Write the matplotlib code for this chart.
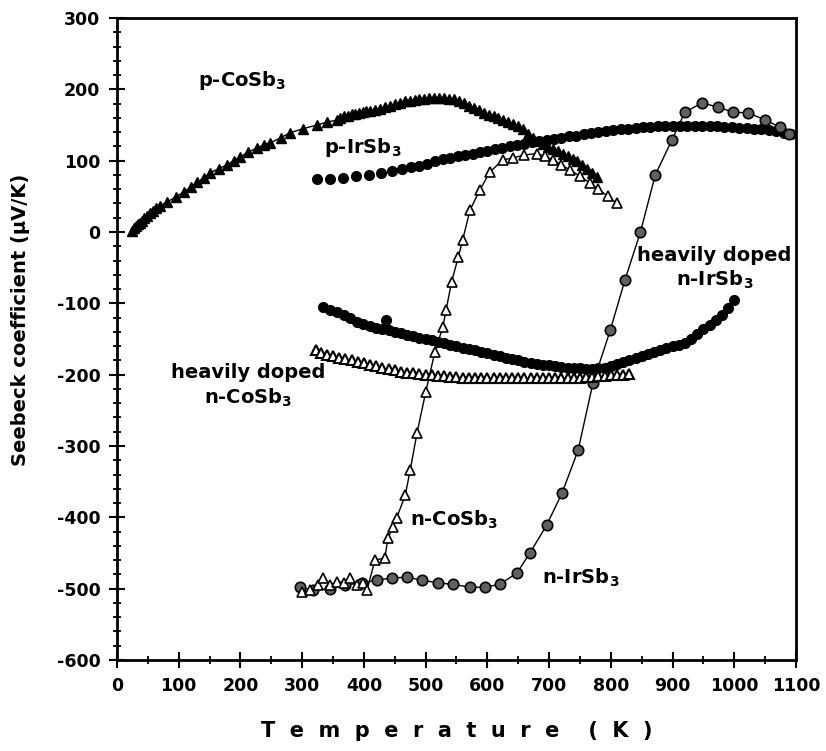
import matplotlib
matplotlib.use("Agg")
import matplotlib.pyplot as plt
from matplotlib.ticker import MultipleLocator

plt.rcParams['font.family'] = ['DejaVu Sans']
plt.rcParams['font.weight'] = 'bold'
plt.rcParams['mathtext.fontset'] = 'dejavusans'
plt.rcParams['axes.unicode_minus'] = False

# p-CoSb3 (filled triangles, line)
p_co_T = [25, 28, 31, 34, 37, 40, 44, 48, 53, 58, 64, 70,
          81, 95, 108, 120, 130, 141, 151, 165, 178, 189, 199, 213, 227, 238, 248, 265, 280, 302, 324, 340, 356,
          362, 368, 374, 380, 386, 392, 398, 404, 410, 418, 426, 434, 442, 450, 458, 466, 474, 482, 490, 498,
          506, 514, 522, 530, 538, 546, 554, 562, 570, 578, 586, 594, 602, 610, 618, 626, 634, 642, 650, 658,
          666, 674, 682, 690, 698, 706, 714, 722, 730, 738, 746, 754, 762, 770, 778]
p_co_S = [2, 5, 8, 11, 13, 16, 19, 22, 27, 30, 34, 37,
          42, 49, 56, 63, 70, 76, 83, 89, 94, 100, 105, 112, 118, 122, 125, 132, 139, 145, 150, 154, 157,
          160, 162, 163, 165, 166, 167, 168, 169, 170, 171, 173, 175, 177, 179, 181, 183, 184, 185, 186, 187,
          188, 188, 188, 188, 187, 186, 184, 181, 177, 174, 171, 167, 164, 162, 160, 157, 154, 151, 148, 144,
          138, 132, 128, 124, 119, 117, 114, 110, 106, 102, 99, 94, 89, 83, 77]

# p-IrSb3 (filled circles)
p_ir_T = [324, 345, 366, 387, 408, 428, 446, 462, 476, 490, 503, 516, 528, 540, 552, 564, 576, 588, 600, 612,
          624, 636, 648, 660, 672, 684, 696, 708, 720, 732, 744, 756, 768, 780, 792, 804, 816, 828, 840, 852,
          864, 876, 888, 900, 912, 924, 936, 948, 960, 972, 984, 996, 1008, 1020, 1032, 1044, 1056, 1068, 1080, 1092]
p_ir_S = [74, 75, 76, 78, 80, 83, 86, 89, 91, 93, 96, 99, 102, 104, 106, 108, 110, 112, 114, 116,
          118, 120, 122, 124, 126, 127, 129, 130, 132, 134, 135, 137, 139, 140, 142, 143, 144, 145, 146, 147,
          147, 148, 148, 149, 149, 149, 149, 149, 148, 148, 147, 147, 146, 146, 145, 144, 143, 141, 139, 137]

# n-IrSb3 (grey circles, line)
n_ir_T = [297, 318, 345, 369, 397, 421, 445, 470, 494, 520, 544, 572, 596, 620, 648, 669, 696, 721, 747,
          771, 799, 823, 848, 872, 899, 920, 948, 974, 998, 1023, 1050, 1074, 1088]
n_ir_S = [-498, -502, -500, -495, -492, -488, -485, -484, -488, -492, -494, -498, -498, -494, -478, -450,
          -411, -366, -306, -212, -138, -67, 0, 80, 129, 168, 181, 175, 168, 167, 157, 147, 138]

# n-CoSb3 (open triangles, line)
n_co_T = [300, 313, 325, 334, 345, 356, 367, 378, 389, 399, 405, 418, 434, 439, 447, 453, 467, 475, 486, 500,
          515, 528, 533, 542, 553, 560, 572, 588, 604, 625, 642, 660, 680, 694, 707, 720, 734, 750, 766, 780,
          795, 810]
n_co_S = [-505, -502, -495, -485, -495, -490, -492, -485, -495, -492, -502, -460, -457, -429, -414, -401,
          -369, -334, -282, -225, -168, -133, -110, -70, -35, -11, 31, 59, 84, 101, 104, 108, 110, 106, 101,
          94, 87, 78, 69, 60, 50, 40]

# heavily doped n-IrSb3 (filled circles)
hd_ir_T = [334, 345, 356, 367, 378, 389, 399, 410, 420, 430, 436, 440, 450, 460, 470, 480, 490, 500, 510,
           520, 530, 540, 550, 560, 570, 580, 590, 600, 610, 620, 630, 640, 650, 660, 670, 680, 690, 700,
           710, 720, 730, 740, 750, 760, 770, 780, 790, 800, 810, 820, 830, 840, 850, 860, 870, 880, 890,
           900, 910, 920, 930, 940, 950, 960, 970, 980, 990, 1000]
hd_ir_S = [-105, -110, -112, -117, -121, -126, -129, -132, -134, -136, -123, -138, -140, -142, -144, -146,
           -148, -150, -152, -154, -156, -158, -160, -162, -164, -166, -168, -170, -172, -174, -176, -178,
           -180, -182, -184, -185, -186, -187, -188, -189, -190, -191, -191, -192, -192, -191, -190, -188,
           -185, -182, -180, -177, -174, -171, -168, -165, -162, -160, -158, -155, -150, -143, -136, -130,
           -124, -116, -106, -96]

# heavily doped n-CoSb3 (open triangles)
hd_co_T = [323, 330, 340, 350, 360, 370, 380, 390, 400, 410, 420, 430, 440, 450, 460, 470, 480, 490, 500,
           510, 520, 530, 540, 550, 560, 570, 580, 590, 600, 610, 620, 630, 640, 650, 660, 670, 680, 690,
           700, 710, 720, 730, 740, 750, 760, 770, 780, 790, 800, 810, 820, 830]
hd_co_S = [-166, -169, -172, -174, -176, -178, -180, -182, -184, -186, -188, -190, -192, -194, -196, -197,
           -198, -199, -200, -201, -202, -202, -203, -203, -204, -204, -204, -205, -205, -205, -205, -205,
           -205, -205, -205, -205, -205, -205, -205, -205, -205, -204, -204, -204, -203, -203, -202, -202,
           -201, -200, -200, -199]

fig = plt.figure(figsize=(8.26, 7.51), dpi=100)
ax = fig.add_axes([0.1416, 0.1212, 0.8221, 0.8548])

ax.plot(p_co_T, p_co_S, '-^', color='black', lw=1, ms=6.5, mfc='black', mec='black')
ax.plot(p_ir_T, p_ir_S, 'o', color='black', ms=7, mfc='black', mec='black')
ax.plot(n_ir_T, n_ir_S, '-o', color='black', lw=1, ms=7.5, mfc='#606060', mec='black', mew=1.2)
ax.plot(n_co_T, n_co_S, '-^', color='black', lw=1, ms=6.5, mfc='white', mec='black', mew=1.2)
ax.plot(hd_ir_T, hd_ir_S, 'o', color='black', ms=7, mfc='black', mec='black')
ax.plot(hd_co_T, hd_co_S, '^', color='black', ms=6.5, mfc='white', mec='black', mew=1.5)

lab = dict(fontsize=14, fontweight='bold')
ax.text(203, 213, r'p-CoSb$_\mathbf{3}$', ha='center', va='center', **lab)
ax.text(399, 119, r'p-IrSb$_\mathbf{3}$', ha='center', va='center', **lab)
ax.text(968, -51, 'heavily doped\n' + r'n-IrSb$_\mathbf{3}$', ha='center', va='center',
        multialignment='center', linespacing=1.25, **lab)
ax.text(212, -216, 'heavily doped\n' + r'n-CoSb$_\mathbf{3}$', ha='center', va='center',
        multialignment='center', linespacing=1.25, **lab)
ax.text(474, -404, r'n-CoSb$_\mathbf{3}$', ha='left', va='center', **lab)
ax.text(688, -485, r'n-IrSb$_\mathbf{3}$', ha='left', va='center', **lab)

ax.set_xlim(0, 1100)
ax.set_ylim(-600, 300)
ax.xaxis.set_major_locator(MultipleLocator(100))
ax.xaxis.set_minor_locator(MultipleLocator(50))
ax.yaxis.set_major_locator(MultipleLocator(100))
ax.yaxis.set_minor_locator(MultipleLocator(20))
ax.tick_params(which='major', direction='inout', length=12, width=1.5, labelsize=12.5, pad=6)
ax.tick_params(which='minor', direction='inout', length=6, width=1.3)
ax.tick_params(top=False, right=False)
for lbl in ax.get_xticklabels() + ax.get_yticklabels():
    lbl.set_fontweight('bold')
for s in ax.spines.values():
    s.set_linewidth(2)

ax.set_xlabel('T  e  m  p  e  r  a  t  u  r  e    (  K  )', fontsize=15, fontweight='bold')
ax.set_ylabel('Seebeck coefficient (µV/K)', fontsize=14, fontweight='bold')
ax.xaxis.set_label_coords(0.5, -0.095)
ax.yaxis.set_label_coords(-0.128, 0.53)

fig.savefig('out.png', dpi=100)
